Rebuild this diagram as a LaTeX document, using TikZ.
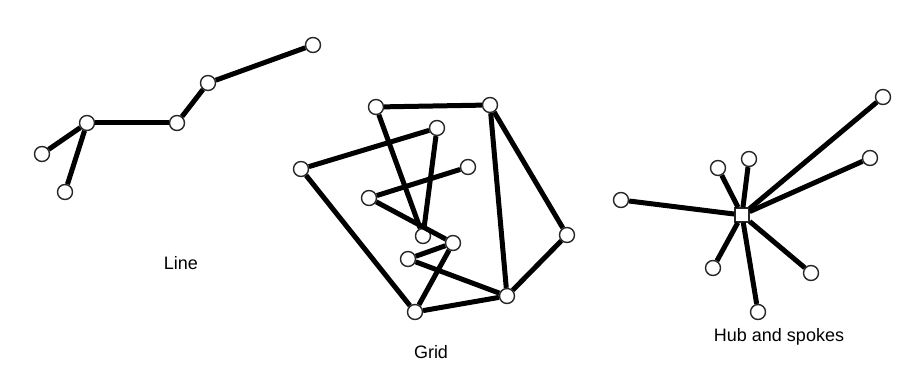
\documentclass[tikz,border=0pt]{standalone}
\usepackage{fontspec}
\setmainfont{Liberation Sans}
\begin{document}
\begin{tikzpicture}[x=1pt,y=-1pt,
  vtx/.style={circle,draw=black!85,line width=1.4pt,fill=white,minimum size=15pt,inner sep=0pt},
  hubbox/.style={rectangle,draw=black!85,line width=1.4pt,fill=white,minimum size=14pt,inner sep=0pt},
  edge/.style={line width=5pt,black},
  lbl/.style={font=\fontsize{18}{21}\selectfont}]
\useasboundingbox (0,0) rectangle (915,374);
% Line
\node[vtx] (L1) at (313,45) {};
\node[vtx] (L2) at (208,83) {};
\node[vtx] (L3) at (177,123) {};
\node[vtx] (L4) at (87,123) {};
\node[vtx] (L5) at (42,154) {};
\node[vtx] (L6) at (65,192) {};
% Grid
\node[vtx] (G1) at (376,107) {};
\node[vtx] (G2) at (490,105) {};
\node[vtx] (G3) at (437,128) {};
\node[vtx] (G4) at (301,169) {};
\node[vtx] (G5) at (468,167) {};
\node[vtx] (G6) at (369,198) {};
\node[vtx] (G7) at (423,236) {};
\node[vtx] (G8) at (453,243) {};
\node[vtx] (G9) at (408,259) {};
\node[vtx] (G10) at (567,235) {};
\node[vtx] (G11) at (507,296) {};
\node[vtx] (G12) at (415,312) {};
% Hub and spokes
\node[hubbox] (H) at (742,215) {};
\node[vtx] (H1) at (883,97) {};
\node[vtx] (H2) at (870,158) {};
\node[vtx] (H3) at (749,159) {};
\node[vtx] (H4) at (718,168) {};
\node[vtx] (H5) at (621,200) {};
\node[vtx] (H6) at (713,268) {};
\node[vtx] (H7) at (811,273) {};
\node[vtx] (H8) at (758,312) {};
% edges
\foreach \a/\b in {L1/L2,L2/L3,L3/L4,L4/L5,L4/L6,
  G1/G2,G1/G7,G3/G4,G3/G7,G5/G6,G6/G8,G8/G9,G9/G11,G8/G12,G4/G12,G12/G11,G2/G11,G2/G10,G10/G11,
  H/H1,H/H2,H/H3,H/H4,H/H5,H/H6,H/H7,H/H8}
  \draw[edge] (\a) -- (\b);
% labels
\node[lbl] (tLine) at (181,263) {Line};
\node[lbl] (tGrid) at (431,352) {Grid};
\node[lbl] (tHub) at (779,337) {Hub and spokes};
\end{tikzpicture}
\end{document}
